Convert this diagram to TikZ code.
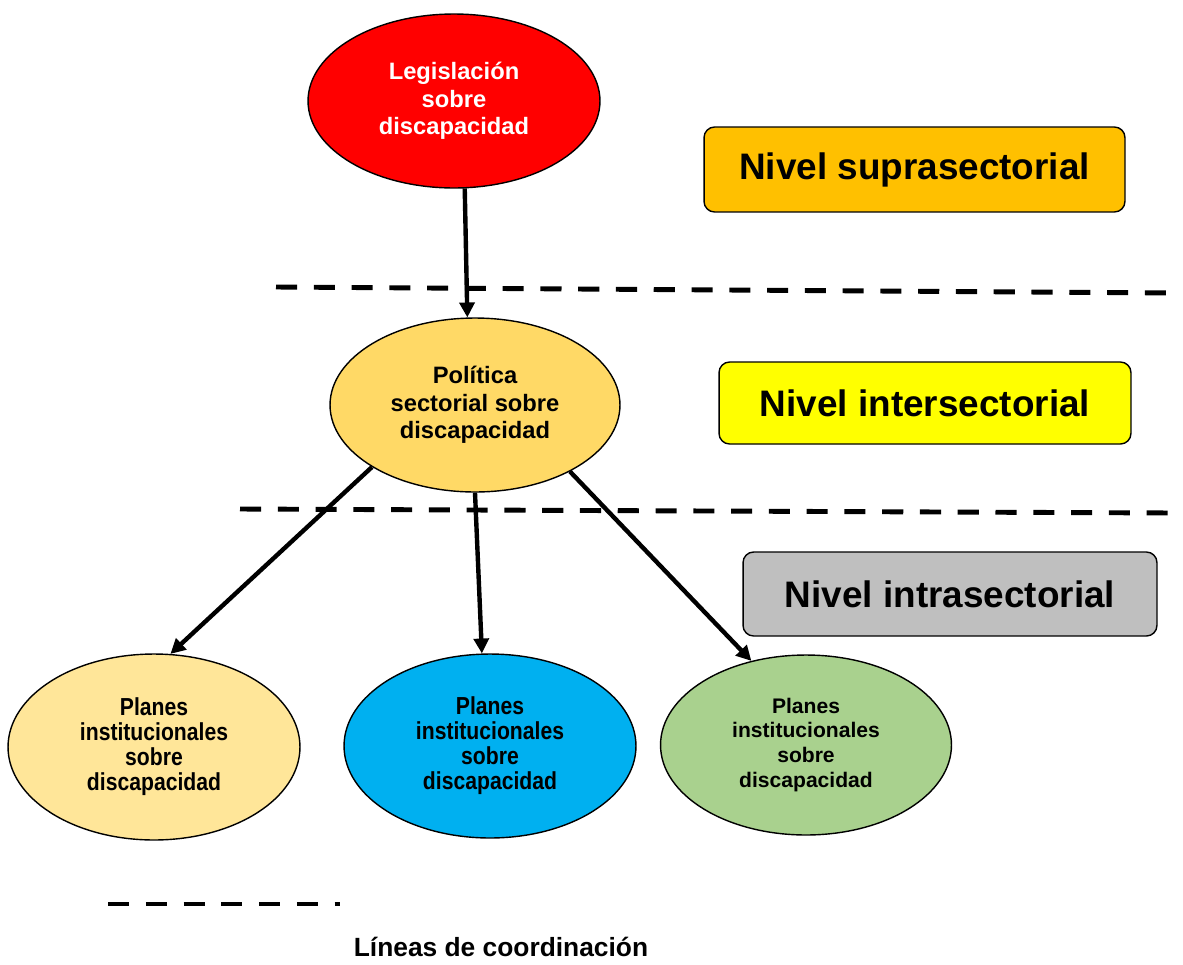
\documentclass[tikz,border=0pt]{standalone}
\usepackage{fontspec}
\setmainfont{Liberation Sans}
\newfontfamily\narrowsans[FakeStretch=0.86]{Liberation Sans}
\usetikzlibrary{shapes.geometric,arrows.meta}
\definecolor{rojoley}{HTML}{FF0000}
\definecolor{amarpol}{HTML}{FFD966}
\definecolor{amarplan}{HTML}{FFE699}
\definecolor{azulplan}{HTML}{00B0F0}
\definecolor{verdeplan}{HTML}{A9D18E}
\definecolor{supranar}{HTML}{FFC000}
\definecolor{interama}{HTML}{FFFF00}
\definecolor{intragris}{HTML}{BFBFBF}
\begin{document}
\begin{tikzpicture}[x=0.02cm,y=-0.02cm,
    elip/.style={ellipse,draw,line width=0.8pt,inner sep=0pt,align=center,
      font=\bfseries\fontsize{13.5}{15.6}\selectfont},
    plan/.style={elip,font=\bfseries\fontsize{12}{14.2}\selectfont},
    planb/.style={elip,font=\narrowsans\bfseries\fontsize{14}{14.2}\selectfont},
    nivel/.style={draw,rounded corners=6pt,line width=0.8pt,
      font=\bfseries\fontsize{21}{25}\selectfont},
    flecha/.style={line width=2.5pt,-{Triangle[length=8.5pt,width=8.5pt]}},
    coord/.style={line width=2.8pt,dash pattern=on 12pt off 9.5pt}]
    \useasboundingbox(0,0)rectangle(1183,964);
    % elipses
    \node[elip,fill=rojoley,text=white,minimum width=5.84cm,minimum height=3.48cm](ley)at(454,101){Legislación\\sobre\\discapacidad};
    \node[elip,fill=amarpol,minimum width=5.8cm,minimum height=3.48cm](pol)at(475,405){Política\\sectorial sobre\\discapacidad};
    \node[planb,fill=amarplan,minimum width=5.84cm,minimum height=3.72cm](plana)at(154,747){Planes\\institucionales\\sobre\\discapacidad};
    \node[planb,fill=azulplan,minimum width=5.84cm,minimum height=3.68cm](planb)at(490,746){Planes\\institucionales\\sobre\\discapacidad};
    \node[plan,fill=verdeplan,minimum width=5.82cm,minimum height=3.6cm](planc)at(806,745){Planes\\institucionales\\sobre\\discapacidad};
    % niveles
    \node[nivel,fill=supranar,minimum width=8.42cm,minimum height=1.7cm](supra)at(914.5,169.5){Nivel suprasectorial};
    \node[nivel,fill=interama,minimum width=8.24cm,minimum height=1.64cm](inter)at(925,403){Nivel intersectorial};
    \node[nivel,fill=intragris,minimum width=8.28cm,minimum height=1.68cm](intra)at(950,594){Nivel intrasectorial};
    % lineas de coordinacion
    \coordinate(a1)at(276,287);\coordinate(a2)at(1178,293);
    \coordinate(b1)at(240,509);\coordinate(b2)at(1175,513);
    \coordinate(l1)at(108,904);\coordinate(l2)at(340,904);
    \draw[coord](a1)--(a2);\draw[coord](b1)--(b2);\draw[coord](l1)--(l2);
    \node[font=\bfseries\fontsize{15}{18}\selectfont](leyenda)at(501,947){Líneas de coordinación};
    % flechas
    \draw[flecha](ley.-83)--(pol.95);
    \draw[flecha](pol.south west)--(plana.80);
    \draw[flecha](pol.south)--(planb.95);
    \draw[flecha](pol.-35)--(planc.123);
\end{tikzpicture}
\end{document}
